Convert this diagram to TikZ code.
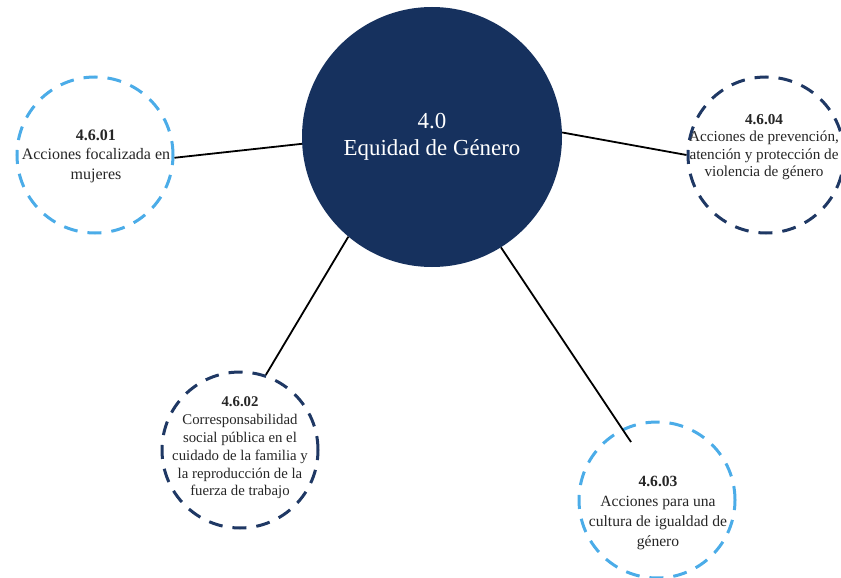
\documentclass[tikz,border=0pt]{standalone}
\usepackage{fontspec}
\setmainfont{Liberation Serif}
\begin{document}
\begin{tikzpicture}[x=1pt,y=-1pt,
  ring/.style={circle, draw=#1, line width=3pt, dash pattern=on 14pt off 10pt, minimum size=156pt, inner sep=0pt},
  link/.style={draw=black, line width=1.8pt},
  txt/.style={align=center, text=black!85, inner sep=0pt}]
\definecolor{navy}{RGB}{22,49,94}
\definecolor{lightblue}{RGB}{75,172,232}
\definecolor{darkring}{RGB}{31,56,100}
\useasboundingbox (0,0) rectangle (841,578);
\node[circle, fill=navy, minimum size=260pt, inner sep=0pt, text=white, align=center, font=\fontsize{22.9}{27}\selectfont] (eq) at (432,137) {4.0\\Equidad de Género};
\node[ring=lightblue] (n01) at (95,155) {};
\node[ring=darkring] (n04) at (766,155) {};
\node[ring=darkring] (n02) at (240,450) {};
\node[ring=lightblue] (n03) at (657,500) {};
\node[txt, font=\fontsize{16}{19.5}\selectfont] (t01) at (96,156) {\textbf{4.6.01}\\Acciones focalizada en\\mujeres};
\node[txt, font=\fontsize{15.2}{17.6}\selectfont] (t04) at (764,147) {\textbf{4.6.04}\\Acciones de prevención,\\atención y protección de\\violencia de género};
\node[txt, font=\fontsize{14.8}{17.8}\selectfont] (t02) at (240,448) {\textbf{4.6.02}\\Corresponsabilidad\\social pública en el\\cuidado de la familia y\\la reproducción de la\\fuerza de trabajo};
\node[txt, font=\fontsize{15.6}{20}\selectfont] (t03) at (658,513) {\textbf{4.6.03}\\Acciones para una\\cultura de igualdad de\\género};
\coordinate (e03) at (631,442);
% connectors
\draw[link] (eq.183) -- (n01.358);
\draw[link] (eq.2) -- (n04.180);
\draw[link] (eq.230) -- (n02.71);
\draw[link] (eq.302) -- (e03);
\end{tikzpicture}
\end{document}
